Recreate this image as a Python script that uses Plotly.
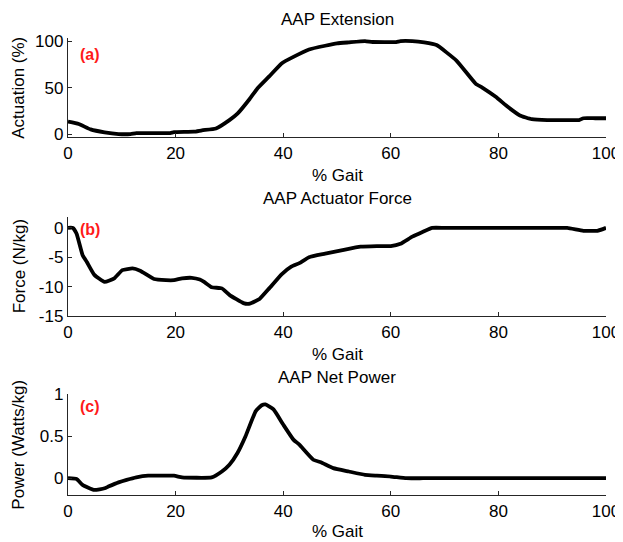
import plotly.graph_objects as go

# ---- data ----
gait_a = [0, 2.0, 4.2, 6.8, 9.4, 11.6, 12.7, 19, 19.7, 23.4, 24.9, 27.5, 30, 31.5, 33.8, 35.2,
          37.4, 39.7, 41.9, 44.8, 47.8, 50, 52.2, 55.2, 56.6, 61, 61.8, 64, 66.2, 68.5, 72.2,
          75.8, 77, 79.5, 81.8, 84, 86.2, 89.1, 92, 95, 95.8, 98, 100]
actuation = [13.3, 10.8, 5, 1.8, 0, 0, 1, 1, 2, 2.5, 4, 6, 15, 22, 38, 49,
             62, 76, 83, 91, 95, 97.5, 98.6, 100, 99, 99, 100, 100, 98.6, 95.7, 79,
             54, 50, 40, 29, 20, 16, 15, 15, 15, 17, 17, 17]

gait_b = [0, 0.9, 1.6, 2.7, 3.5, 4.9, 6.8, 8.6, 10.1, 12, 13.4, 16, 18.2, 19.7, 21.2, 23,
          24.5, 25.3, 26.7, 28.6, 30, 32.6, 33.8, 35.6, 37.4, 39.7, 41.5, 43, 44.8, 47.8,
          51.5, 54.4, 57.4, 60, 61.8, 64, 65.9, 67.7, 70, 75, 80, 85, 90, 92.8, 95.8, 98.4, 100]
force = [0, 0, -1, -4.6, -5.8, -8, -9.2, -8.6, -7.2, -6.9, -7.3, -8.7, -8.9, -8.9, -8.6, -8.5,
         -8.8, -9.2, -10.1, -10.3, -11.4, -12.8, -12.9, -12.1, -10.3, -7.9, -6.6, -6, -5, -4.4,
         -3.7, -3.2, -3.1, -3.1, -2.7, -1.5, -0.7, 0, 0, 0, 0, 0, 0, 0, -0.5, -0.5, 0]

gait_c = [0, 1.6, 2.7, 4.9, 6.8, 7.5, 9.4, 10.9, 12.7, 14.9, 19.7, 21.2, 26.7, 28.6, 30, 31.5,
          33, 34.9, 36, 36.7, 38.2, 40, 41.9, 43, 45.6, 47, 49.3, 52.2, 55.2, 57.4, 60, 62.9,
          66, 70, 80, 90, 100]
power = [0, -0.01, -0.08, -0.14, -0.12, -0.1, -0.05, -0.02, 0.01, 0.03, 0.03, 0.01, 0.01, 0.08,
         0.16, 0.3, 0.5, 0.8, 0.87, 0.88, 0.82, 0.64, 0.46, 0.4, 0.22, 0.19, 0.12, 0.08, 0.04,
         0.03, 0.02, 0, 0, 0, 0, 0, 0]

x_ticks = [0, 20, 40, 60, 80, 100]
titles = ["AAP Extension", "AAP Actuator Force", "AAP Net Power"]
ylabels = ["Actuation (%)", "Force (N/kg)", "Power (Watts/kg)"]
panel_tags = ["(a)", "(b)", "(c)"]
xlabel = "% Gait"

FONT = "Liberation Sans, Arial, sans-serif"
OFF = 8  # page body margin
W, H = 623 - OFF, 542 - OFF
X0, X1 = 68, 606

def px(p):
    return (p - OFF) / W

def py(p):
    return 1 - (p - OFF) / H

fig = go.Figure()
series = [(gait_a, actuation), (gait_b, force), (gait_c, power)]
for i, (xs, ys) in enumerate(series):
    sfx = "" if i == 0 else str(i + 1)
    fig.add_trace(go.Scatter(x=xs, y=ys, mode="lines",
                             line=dict(color="black", width=3.8, shape="spline", smoothing=0.4),
                             xaxis="x" + sfx, yaxis="y" + sfx, showlegend=False,
                             hoverinfo="skip"))

panels = [
    dict(top=38.3, bot=137.3, yr=[-3.5, 103], yt=[0, 50, 100], yl=["0", "50", "100"],
         ty=19.3, xly=175, tag=86),
    dict(top=216.7, bot=316, yr=[-15, 1.9], yt=[-15, -10, -5, 0], yl=["-15", "-10", "-5", "0"],
         ty=198.3, xly=354, tag=-0.3),
    dict(top=394.3, bot=495, yr=[-0.2, 1.0], yt=[0, 0.5, 1], yl=["0", "0.5", "1"],
         ty=377, xly=531, tag=0.86),
]

axis_common = dict(showline=True, linecolor="#262626", linewidth=1.3, ticks="inside",
                   ticklen=4, tickwidth=1, tickcolor="#262626", showgrid=False, zeroline=False,
                   tickfont=dict(family=FONT, size=17, color="black"), automargin=False)

annotations = []
layout_axes = {}
for i, p in enumerate(panels):
    sfx = "" if i == 0 else str(i + 1)
    xa = "xaxis" + sfx
    ya = "yaxis" + sfx
    layout_axes[xa] = dict(axis_common, domain=[px(X0), px(X1)], range=[0, 100],
                           tickvals=x_ticks, ticktext=[str(v) for v in x_ticks],
                           anchor="y" + sfx, fixedrange=True)
    layout_axes[ya] = dict(axis_common, domain=[py(p["bot"]), py(p["top"])], range=p["yr"],
                           tickvals=p["yt"], ticktext=p["yl"], anchor="x" + sfx,
                           fixedrange=True)
    cx = px((X0 + X1) / 2)
    annotations.append(dict(text=titles[i], x=cx, y=py(p["ty"]), xref="paper", yref="paper",
                            xanchor="center", yanchor="middle", showarrow=False,
                            font=dict(family=FONT, size=17, color="black")))
    annotations.append(dict(text=xlabel, x=cx, y=py(p["xly"]), xref="paper", yref="paper",
                            xanchor="center", yanchor="middle", showarrow=False,
                            font=dict(family=FONT, size=17, color="black")))
    annotations.append(dict(text=ylabels[i], x=px(19), y=py((p["top"] + p["bot"]) / 2),
                            xref="paper", yref="paper", xanchor="center", yanchor="middle",
                            textangle=-90, showarrow=False,
                            font=dict(family=FONT, size=17, color="black")))
    annotations.append(dict(text="<b>" + panel_tags[i] + "</b>", x=1.8, y=p["tag"],
                            xref="x" + sfx, yref="y" + sfx, xanchor="left", yanchor="middle",
                            showarrow=False, font=dict(family=FONT, size=16, color="#ff1a1a")))

fig.update_layout(width=W, height=H, autosize=False, margin=dict(l=0, r=0, t=0, b=0),
                  paper_bgcolor="white", plot_bgcolor="white", annotations=annotations,
                  **layout_axes)

fig.write_html("out.html")
